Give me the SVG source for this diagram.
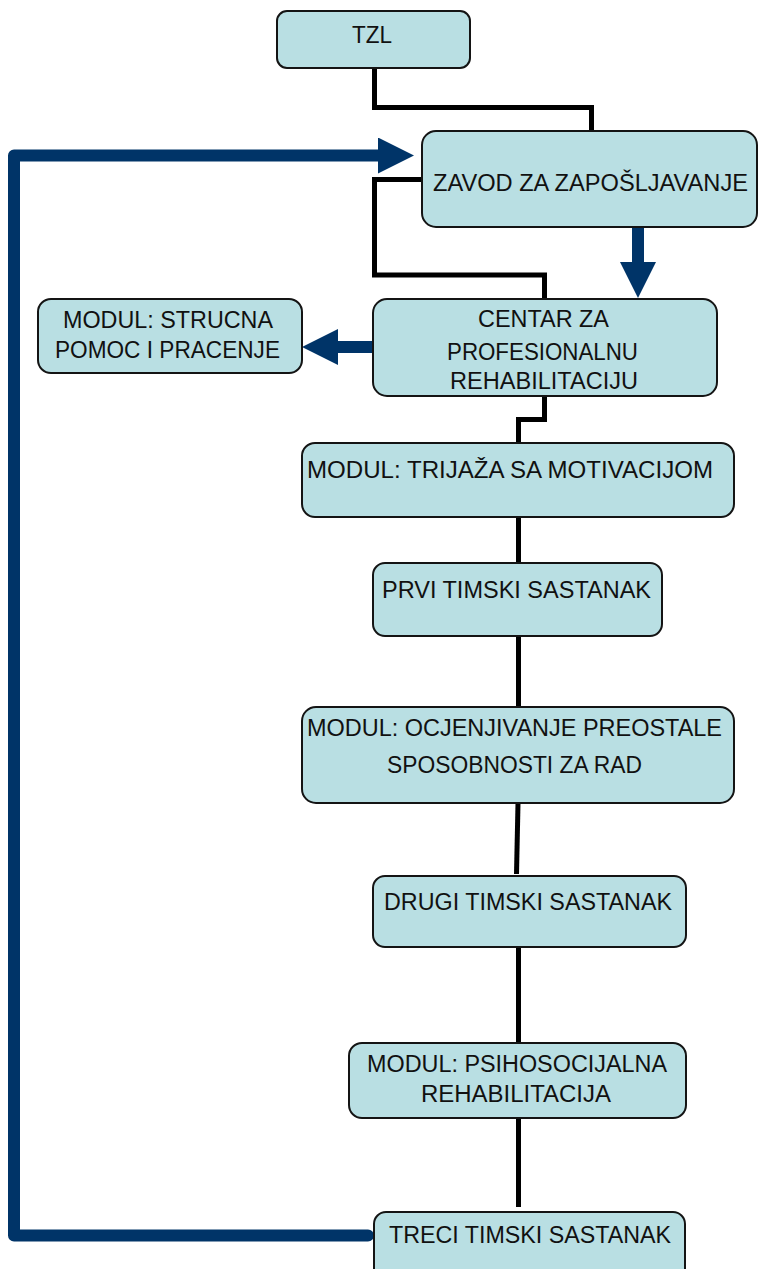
<svg xmlns="http://www.w3.org/2000/svg" width="758" height="1269" viewBox="0 0 758 1269">
  <defs>
    <style>
      .box { fill: #b9dfe3; stroke: #141414; stroke-width: 2; }
      .lbl { font-family: "Liberation Sans", Arial, sans-serif; font-size: 23px; fill: #111; }
      .link { fill: none; stroke: #000; stroke-width: 5; stroke-linejoin: miter; }
      .flow { fill: none; stroke: #003468; stroke-width: 12; stroke-linejoin: round; }
    </style>
    <marker id="head" viewBox="0 0 36 36" refX="0" refY="18" markerWidth="36" markerHeight="36" markerUnits="userSpaceOnUse" orient="auto">
      <path d="M0,0 L36,18 L0,36 z" fill="#003468"/>
    </marker>
  </defs>
  <rect width="758" height="1269" fill="#fff"/>

  <g id="connectors">
    <path class="link" d="M374.5,68 V107.5 H591.5 V131"/>
    <path class="link" d="M422,179.5 H374.5 V275 H544.5 V299"/>
    <path class="link" d="M544.5,396 V419.5 H518.5 V443"/>
    <path class="link" d="M518.5,517 V563"/>
    <path class="link" d="M518.5,636 V707"/>
    <path class="link" d="M518,803 L516.5,874"/>
    <path class="link" d="M518.5,947 V1043"/>
    <path class="link" d="M518.5,1118 V1207"/>
    <path class="flow" d="M368,1235.5 H14 V155.5 H378" stroke-linecap="round" marker-end="url(#head)"/>
    <path class="flow" d="M638,227 V262" marker-end="url(#head)"/>
    <path class="flow" d="M374,347 H338" marker-end="url(#head)"/>
  </g>

  <g id="tzl">
    <rect class="box" x="277" y="11" width="193" height="57" rx="10"/>
    <text class="lbl" x="352" y="43" textLength="40" lengthAdjust="spacingAndGlyphs">TZL</text>
  </g>

  <g id="zavod">
    <rect class="box" x="422" y="131" width="335" height="96" rx="14"/>
    <text class="lbl" x="433" y="191" textLength="315" lengthAdjust="spacingAndGlyphs">ZAVOD ZA ZAPOŠLJAVANJE</text>
  </g>

  <g id="centar">
    <rect class="box" x="373" y="299" width="344" height="97" rx="14"/>
    <text class="lbl" x="478" y="327" textLength="131" lengthAdjust="spacingAndGlyphs">CENTAR ZA</text>
    <text class="lbl" x="447" y="360" textLength="191" lengthAdjust="spacingAndGlyphs">PROFESIONALNU</text>
    <text class="lbl" x="450" y="389" textLength="188" lengthAdjust="spacingAndGlyphs">REHABILITACIJU</text>
  </g>

  <g id="strucna">
    <rect class="box" x="38" y="299" width="264" height="74" rx="13"/>
    <text class="lbl" x="63" y="328" textLength="210" lengthAdjust="spacingAndGlyphs">MODUL: STRUCNA</text>
    <text class="lbl" x="55" y="358" textLength="225" lengthAdjust="spacingAndGlyphs">POMOC I PRACENJE</text>
  </g>

  <g id="trijaza">
    <rect class="box" x="302" y="443" width="432" height="74" rx="13"/>
    <text class="lbl" x="307" y="478" textLength="406" lengthAdjust="spacingAndGlyphs">MODUL: TRIJAŽA SA MOTIVACIJOM</text>
  </g>

  <g id="prvi">
    <rect class="box" x="373" y="563" width="289" height="73" rx="12"/>
    <text class="lbl" x="382" y="598" textLength="269" lengthAdjust="spacingAndGlyphs">PRVI TIMSKI SASTANAK</text>
  </g>

  <g id="ocjenjivanje">
    <rect class="box" x="302" y="707" width="432" height="96" rx="14"/>
    <text class="lbl" x="307" y="736" textLength="415" lengthAdjust="spacingAndGlyphs">MODUL: OCJENJIVANJE PREOSTALE</text>
    <text class="lbl" x="387" y="773" textLength="255" lengthAdjust="spacingAndGlyphs">SPOSOBNOSTI ZA RAD</text>
  </g>

  <g id="drugi">
    <rect class="box" x="373" y="876" width="313" height="71" rx="12"/>
    <text class="lbl" x="384" y="910" textLength="288" lengthAdjust="spacingAndGlyphs">DRUGI TIMSKI SASTANAK</text>
  </g>

  <g id="psihosocijalna">
    <rect class="box" x="349" y="1043" width="337" height="75" rx="13"/>
    <text class="lbl" x="367" y="1072" textLength="300" lengthAdjust="spacingAndGlyphs">MODUL: PSIHOSOCIJALNA</text>
    <text class="lbl" x="421" y="1102" textLength="190" lengthAdjust="spacingAndGlyphs">REHABILITACIJA</text>
  </g>

  <g id="treci">
    <rect class="box" x="374" y="1212" width="311" height="70" rx="12"/>
    <text class="lbl" x="389" y="1243" textLength="282" lengthAdjust="spacingAndGlyphs">TRECI TIMSKI SASTANAK</text>
  </g>
</svg>
